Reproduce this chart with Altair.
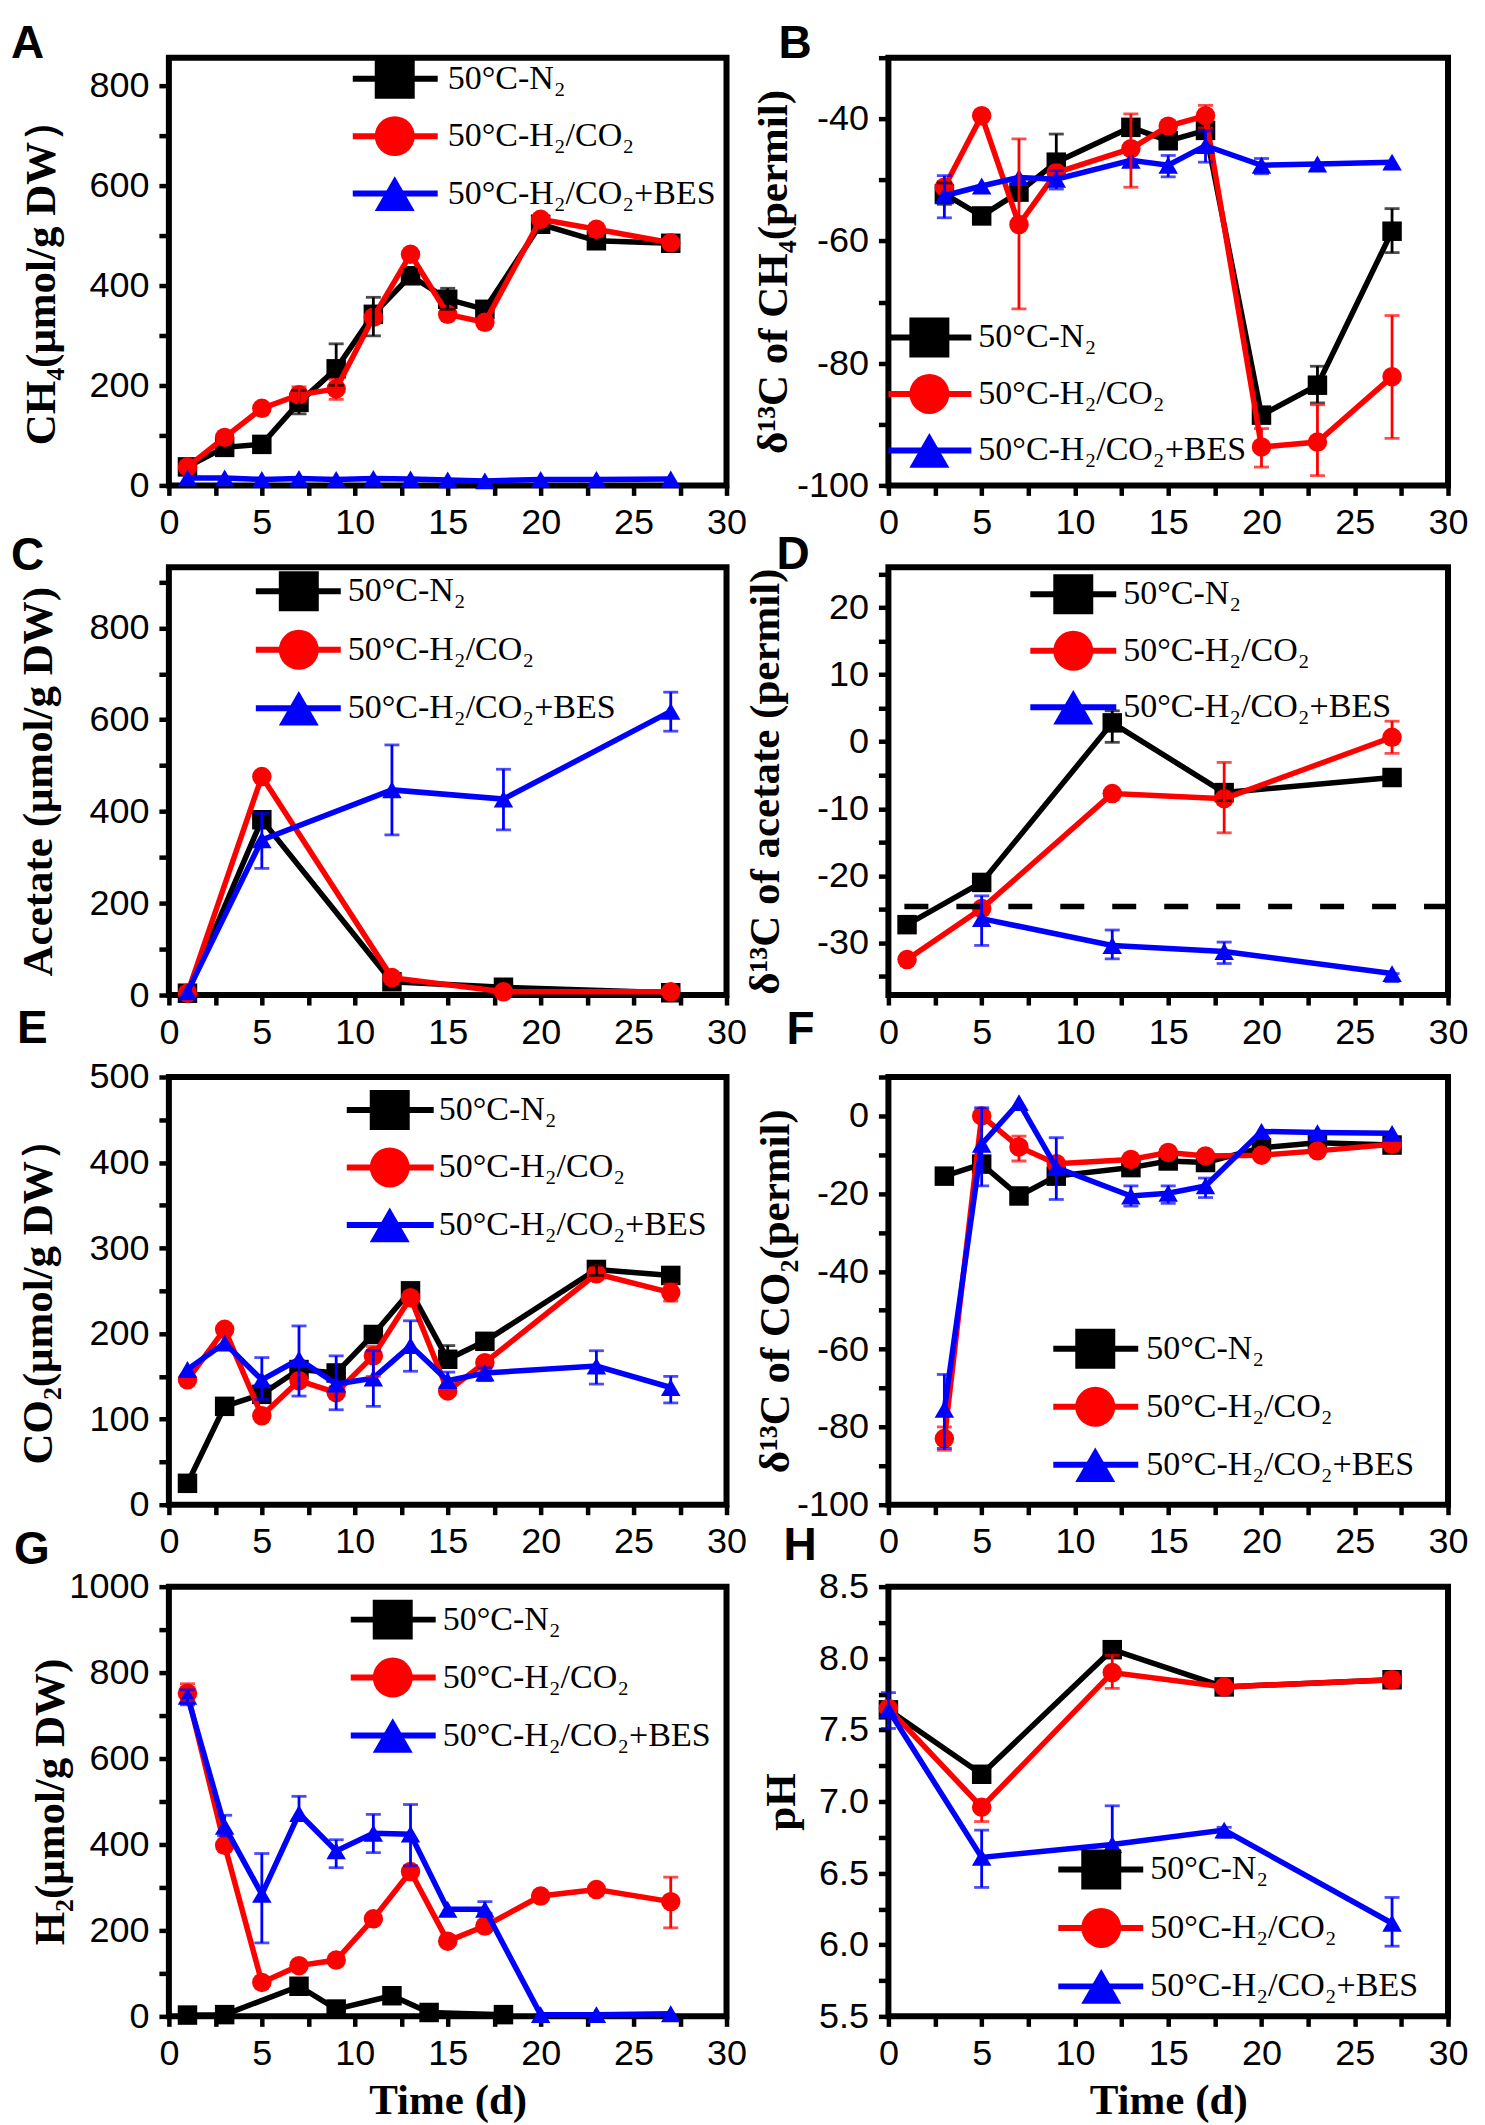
import altair as alt
import pandas as pd

KEYS = ["N2", "H2CO2", "BES"]
LABELS = ["50°C-N₂", "50°C-H₂/CO₂", "50°C-H₂/CO₂+BES"]
COLORS = ["#000000", "#ff0000", "#0000ff"]
SHAPES = ["square", "circle", "triangle-up"]
XTICKS = [0, 2.5, 5, 7.5, 10, 12.5, 15, 17.5, 20, 22.5, 25, 27.5, 30]

# ---- A: CH4 ----
a_day = [1, 3, 5, 7, 9, 11, 13, 15, 17, 20, 23, 27]
a_n2 = [37, 76, 82, 166, 233, 342, 419, 372, 352, 522, 489, 484]
a_h2 = [37, 96, 154, 181, 193, 336, 462, 342, 326, 532, 512, 485]
a_bes = [15, 15, 12, 14, 12, 14, 13, 11, 9, 12, 12, 13]
a_err_n2 = [(7, 143, 190), (9, 200, 283), (11, 299, 376), (13, 405, 432), (15, 352, 394)]
a_err_h2 = [(7, 168, 197), (9, 172, 212), (23, 500, 522)]
a_err_bes = []

# ---- B: d13C CH4 ----
b_day = [3, 5, 7, 9, 13, 15, 17, 20, 23, 27]
b_n2 = [-52.3, -55.9, -52.0, -47.1, -41.4, -43.6, -41.9, -88.5, -83.6, -58.4]
b_h2 = [-51.2, -39.5, -57.3, -48.8, -44.9, -41.2, -39.5, -93.7, -92.9, -82.2]
b_bes = [-52.6, -51.0, -49.6, -49.9, -46.8, -47.6, -44.4, -47.6, -47.4, -47.1]
b_err_n2 = [(3, -54.0, -50.5), (9, -47.1, -42.5), (23, -86.5, -80.5), (27, -61.9, -54.7)]
b_err_h2 = [(7, -71.1, -43.3), (13, -51.2, -39.2), (17, -41.5, -37.8), (20, -97.0, -90.7),
            (23, -98.4, -86.8), (27, -92.3, -72.2)]
b_err_bes = [(3, -56.2, -49.3), (9, -51.5, -48.5), (15, -49.5, -46.0), (17, -47.1, -42.0), (20, -49.0, -46.5)]

# ---- C: acetate ----
c_day = [1, 5, 12, 18, 27]
c_n2 = [4, 382, 29, 17, 5]
c_h2 = [4, 476, 38, 7, 7]
c_bes = [7, 338, 447, 427, 618]
c_err_n2 = [(5, 370, 396)]
c_err_h2 = []
c_err_bes = [(5, 276, 396), (12, 349, 545), (18, 360, 492), (27, 575, 660)]

# ---- D: d13C acetate ----
d_day = [1, 5, 12, 18, 27]
d_n2 = [-27.3, -21.0, 2.8, -7.6, -5.35]
d_h2 = [-32.5, -24.9, -7.75, -8.5, 0.65]
d_bes_day = [5, 12, 18, 27]
d_bes = [-26.4, -30.4, -31.3, -34.6]
d_err_n2 = [(12, -0.1, 4.6), (18, -8.8, -6.5)]
d_err_h2 = [(18, -13.6, -3.1), (27, -1.75, 3.05)]
d_err_bes = [(5, -30.4, -23.0), (12, -32.4, -28.1), (18, -33.1, -29.9), (27, -35.8, -34.6)]
d_ref = -24.6

# ---- E: CO2 ----
e_day = [1, 3, 5, 7, 9, 11, 13, 15, 17, 23, 27]
e_n2 = [25, 115, 129, 158, 154, 199, 250, 170, 191, 275, 268]
e_h2 = [146, 205, 104, 145, 131, 174, 242, 133, 166, 270, 248]
e_bes = [158, 189, 146, 170, 141, 148, 186, 145, 154, 162, 137]
e_err_n2 = [(15, 165, 186), (23, 268, 280)]
e_err_h2 = [(11, 150, 185), (27, 238, 258)]
e_err_bes = [(5, 123, 172), (7, 127, 209), (9, 111, 174), (11, 115, 180), (13, 156, 215),
             (15, 138, 155), (17, 145, 160), (23, 141, 180), (27, 119, 150)]

# ---- F: d13C CO2 ----
f_day = [3, 5, 7, 9, 13, 15, 17, 20, 23, 27]
f_n2 = [-15.5, -12.4, -20.6, -15.5, -13.3, -11.6, -12.0, -8.2, -6.9, -7.5]
f_h2 = [-83.0, 0.0, -8.0, -12.3, -11.2, -9.4, -10.3, -10.1, -9.0, -7.3]
f_bes = [-75.5, -7.3, 3.4, -13.3, -20.6, -19.9, -18.0, -4.0, -4.3, -4.5]
f_err_n2 = []
f_err_h2 = [(3, -86.0, -80.0), (7, -11.6, -5.2)]
f_err_bes = [(3, -85.5, -66.5), (5, -18.0, 2.1), (9, -21.5, -5.6), (13, -23.2, -18.0),
             (15, -22.5, -18.0), (17, -21.0, -16.0)]

# ---- G: H2 ----
g_n2_day = [1, 3, 7, 9, 12, 14, 18]
g_n2 = [3, 4, 70, 17, 48, 9, 4]
g_day = [1, 3, 5, 7, 9, 11, 13, 15, 17, 20, 23, 27]
g_h2 = [752, 398, 79, 118, 131, 227, 337, 175, 210, 280, 295, 267]
g_bes = [745, 442, 284, 472, 385, 426, 424, 249, 249, 4, 4, 6]
g_err_n2 = []
g_err_h2 = [(1, 735, 774), (27, 206, 324)]
g_err_bes = [(1, 725, 760), (3, 420, 468), (5, 171, 379), (7, 458, 512), (9, 346, 411),
             (11, 381, 470), (13, 350, 493), (17, 240, 267)]

# ---- H: pH ----
h_day = [0, 5, 12, 18, 27]
h_n2 = [7.64, 7.19, 8.06, 7.80, 7.85]
h_h2 = [7.65, 6.96, 7.90, 7.80, 7.85]
h_bes = [7.64, 6.61, 6.70, 6.80, 6.15]
h_err_n2 = []
h_err_h2 = [(5, 6.86, 7.00), (12, 7.79, 8.02), (27, 7.80, 7.90)]
h_err_bes = [(0, 7.51, 7.76), (5, 6.40, 6.80), (12, 6.70, 6.97), (18, 6.75, 6.82), (27, 5.99, 6.33)]

SANS = "Liberation Sans"
SERIF = "Liberation Serif"

cscale = alt.Scale(domain=KEYS, range=COLORS)
sscale = alt.Scale(domain=KEYS, range=SHAPES)


def every(step):
    return (f"abs(datum.value/{step} - round(datum.value/{step})) < 0.000001 ? '' + datum.value : ''")


def rng(a, b, s):
    out = []
    v = a
    while v <= b + 1e-9:
        out.append(round(v, 4))
        v += s
    return out


def panel(series, ydom, yvals, ylab, ytitle, title_x, leg, letter, lxy, w, h,
          xtitle=None, ref=None):
    xs = alt.Scale(domain=[0, 30], nice=False, zero=False)
    ys = alt.Scale(domain=ydom, nice=False, zero=False)
    xkw = dict(values=XTICKS, labelExpr="datum.value % 5 == 0 ? '' + datum.value : ''",
               labelFlush=False)
    if xtitle:
        xax = alt.Axis(title=xtitle, titleY=84, titleBaseline="middle", **xkw)
    else:
        xax = alt.Axis(title=None, **xkw)
    yax = alt.Axis(values=yvals, labelExpr=ylab, title=ytitle, titleX=title_x,
                   titleBaseline="middle")

    def X(f="day"):
        return alt.X(f"{f}:Q", scale=xs, axis=xax)

    def Y(f):
        return alt.Y(f"{f}:Q", scale=ys, axis=yax)

    layers = []
    for i, (days, vals, errs) in enumerate(series):
        df = pd.DataFrame({"day": days, "value": vals})
        c = COLORS[i]
        layers.append(alt.Chart(df).mark_line(color=c, strokeWidth=5.5).encode(x=X(), y=Y("value")))
        layers.append(alt.Chart(df).mark_point(shape=SHAPES[i], filled=True, color=c, size=380,
                                               opacity=1).encode(x=X(), y=Y("value")))
    if ref is not None:
        rdf = pd.DataFrame({"ref": [ref]})
        layers.append(alt.Chart(rdf).mark_rule(color="black", strokeWidth=5.5, strokeDash=[24, 28])
                      .encode(y=Y("ref")))
    for i, (days, vals, errs) in enumerate(series):
        if not errs:
            continue
        edf = pd.DataFrame(errs, columns=["day", "lo", "hi"])
        c = COLORS[i]
        layers.append(alt.Chart(edf).mark_rule(color=c, strokeWidth=2.8)
                      .encode(x=X(), y=Y("lo"), y2="hi:Q"))
        for f in ("lo", "hi"):
            layers.append(alt.Chart(edf).mark_tick(orient="horizontal", color=c, size=15,
                                                   thickness=2.8).encode(x=X(), y=Y(f)))
    data_layer = alt.layer(*layers)

    y1, y3, x0, x1, xm, xt = leg
    ldf = pd.DataFrame({"key": KEYS, "label": LABELS})
    ly = alt.Y("key:N", scale=alt.Scale(type="point", domain=KEYS, range=[y1, y3], padding=0),
               axis=None)
    col = alt.Color("key:N", scale=cscale, legend=None)
    shp = alt.Shape("key:N", scale=sscale, legend=None)
    lr = alt.Chart(ldf).mark_rule(strokeWidth=6).encode(
        x=alt.value(x0), x2=alt.value(x1), y=ly, color=col)
    lp = alt.Chart(ldf).mark_point(filled=True, size=1600, opacity=1).encode(
        x=alt.value(xm), y=ly, color=col, shape=shp)
    lt = alt.Chart(ldf).mark_text(align="left", baseline="middle", font=SERIF, fontSize=34,
                                  color="black").encode(x=alt.value(xt), y=ly, text="label:N")
    let = alt.Chart(pd.DataFrame({"t": [letter]})).mark_text(
        align="left", baseline="top", font=SANS, fontWeight="bold", fontSize=46,
        color="black").encode(x=alt.value(lxy[0]), y=alt.value(lxy[1]), text="t:N")
    leg_layer = alt.layer(lr, lp, lt, let)
    return alt.layer(data_layer, leg_layer).resolve_scale(y="independent").properties(
        width=w, height=h)


pA = panel([(a_day, a_n2, a_err_n2), (a_day, a_h2, a_err_h2), (a_day, a_bes, a_err_bes)],
           [0, 855], rng(0, 800, 100), every(200), "CH₄(μmol/g DW）", -127,
           (21, 136, 184, 269, 226, 279), "A", (-158, -36), 558, 428)
pB = panel([(b_day, b_n2, b_err_n2), (b_day, b_h2, b_err_h2), (b_day, b_bes, b_err_bes)],
           [-100, -30], rng(-100, -30, 10), every(20), "δ¹³C of CH₄(permil)", -115,
           (280, 393, 0, 83, 41, 90), "B", (-110, -36), 560, 428)
pC = panel([(c_day, c_n2, c_err_n2), (c_day, c_h2, c_err_h2), (c_day, c_bes, c_err_bes)],
           [0, 932], rng(0, 900, 100), every(200), "Acetate (μmol/g DW)", -130,
           (24, 141, 87, 172, 130, 179), "C", (-158, -33), 558, 428)
pD = panel([(d_day, d_n2, d_err_n2), (d_day, d_h2, d_err_h2), (d_bes_day, d_bes, d_err_bes)],
           [-37.8, 26], rng(-35, 25, 5), every(10), "δ¹³C of acetate (permil)", -123,
           (27, 140, 142, 228, 185, 235), "D", (-112, -34), 560, 428, ref=d_ref)
pE = panel([(e_day, e_n2, e_err_n2), (e_day, e_h2, e_err_h2), (e_day, e_bes, e_err_bes)],
           [0, 500], rng(0, 500, 50), every(100), "CO₂(μmol/g DW）", -130,
           (33, 148, 178, 265, 221, 270), "E", (-152, -70), 558, 428)
pF = panel([(f_day, f_n2, f_err_n2), (f_day, f_h2, f_err_h2), (f_day, f_bes, f_err_bes)],
           [-100, 10], rng(-100, 10, 10), every(20), "δ¹³C of CO₂(permil)", -113,
           (272, 388, 165, 250, 207, 258), "F", (-102, -69), 560, 428)
pG = panel([(g_n2_day, g_n2, g_err_n2), (g_day, g_h2, g_err_h2), (g_day, g_bes, g_err_bes)],
           [0, 1000], rng(0, 1000, 100), every(200), "H₂(μmol/g DW)", -118,
           (33, 149, 182, 267, 224, 274), "G", (-155, -59), 558, 430, xtitle="Time (d)")
pH = panel([(h_day, h_n2, h_err_n2), (h_day, h_h2, h_err_h2), (h_day, h_bes, h_err_bes)],
           [5.5, 8.5], rng(5.5, 8.5, 0.25),
           "abs(datum.value*2 - round(datum.value*2)) < 0.000001 ? format(datum.value, '.1f') : ''",
           "pH", -107, (283, 400, 170, 255, 213, 262), "H", (-105, -63), 560, 430,
           xtitle="Time (d)")

chart = alt.concat(
    pA, pB, pC, pD, pE, pF, pG, pH,
    columns=2, spacing={"row": 82, "column": 162}, bounds="flush",
).properties(
    padding={"left": 0, "top": 9, "right": 5, "bottom": 0}
).configure_view(
    stroke="black", strokeWidth=6
).configure_axis(
    domain=False, grid=False, ticks=True, tickColor="black", tickWidth=4.5, tickSize=10,
    labelFont=SANS, labelFontSize=36, labelColor="black", labelPadding=10,
    labelOverlap=False, titleFont=SERIF, titleFontWeight="bold", titleFontSize=43,
    titleColor="black"
)

chart.save("out.html", embed_options={"renderer": "svg", "actions": False})
